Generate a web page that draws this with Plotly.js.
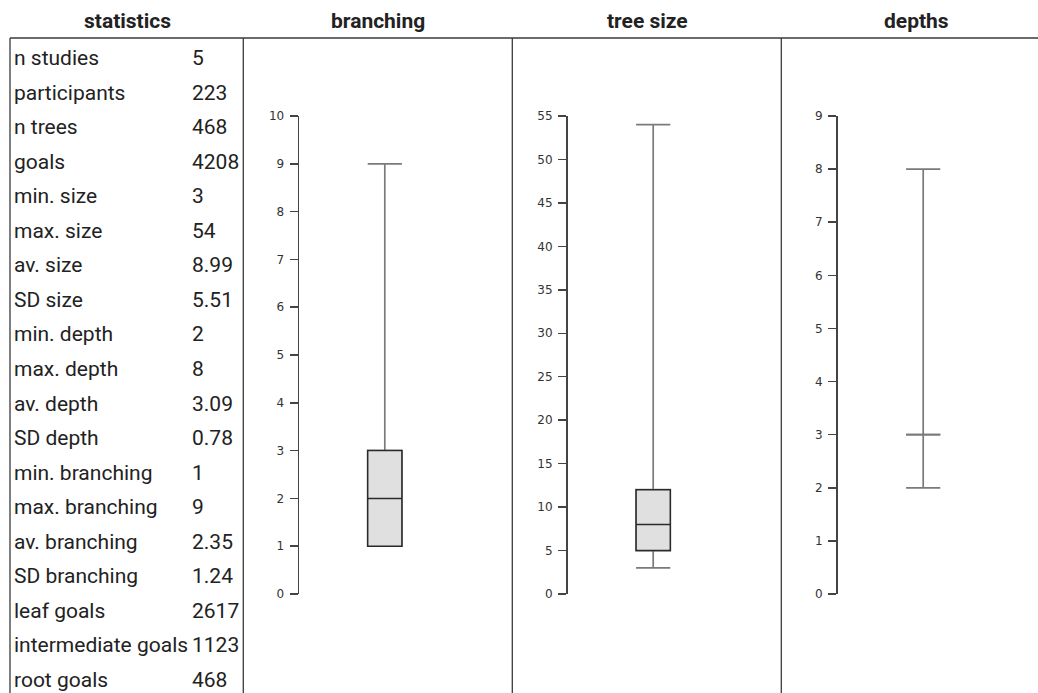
<!DOCTYPE html>
<html>
<head>
<meta charset="utf-8">
<script src="https://cdn.plot.ly/plotly-3.0.1.min.js"></script>
<style>
  html, body { margin: 0; padding: 0; background: #ffffff; }
  #chart { width: 1038px; height: 693px; }
</style>
</head>
<body>
<div id="chart"></div>
<script>
// Summary table
const statLabels = ["n studies", "participants", "n trees", "goals", "min. size", "max. size",
  "av. size", "SD size", "min. depth", "max. depth", "av. depth", "SD depth",
  "min. branching", "max. branching", "av. branching", "SD branching",
  "leaf goals", "intermediate goals", "root goals"];
const statValues = ["5", "223", "468", "4208", "3", "54", "8.99", "5.51", "2", "8",
  "3.09", "0.78", "1", "9", "2.35", "1.24", "2617", "1123", "468"];

// Column headers
const headers = ["statistics", "branching", "tree size", "depths"];

// Box statistics per panel: [min, q1, median, q3, max]
const branching = [1, 1, 2, 3, 9];
const treeSize  = [3, 5, 8, 12, 54];
const depths    = [2, 3, 3, 3, 8];

// Axis ranges and tick spacing per panel
const yMax  = [10, 55, 9];
const yStep = [1, 5, 1];

const W = 1038, H = 693;
const px = x => x / W;
const py = y => 1 - y / H;

const panels = [branching, treeSize, depths];
const axisLeft = [299.3, 567.7, 837.7];
const plotW = 171;
const plotTop = 116, plotBottom = 594;

const whiskerColor = "#7a7a7a";
const boxColor = "#2a2a2a";
const fillColor = "#e0e0e0";

const traces = [];
const layout = {
  width: W, height: H,
  margin: {l: 0, r: 0, t: 0, b: 0},
  paper_bgcolor: "#ffffff",
  plot_bgcolor: "rgba(0,0,0,0)",
  showlegend: false,
  boxmode: "overlay",
  shapes: [],
  annotations: []
};

panels.forEach((s, i) => {
  const n = i === 0 ? "" : String(i + 1);
  const xa = "x" + n, ya = "y" + n;
  // whiskers from min to max
  traces.push({
    type: "box", xaxis: xa, yaxis: ya, x: [0],
    lowerfence: [s[0]], q1: [s[1]], median: [s[2]], q3: [s[3]], upperfence: [s[4]],
    width: 0.2, whiskerwidth: 1, boxpoints: false,
    line: {color: whiskerColor, width: 1.7},
    fillcolor: "rgba(0,0,0,0)", hoverinfo: "skip"
  });
  // interquartile box on top (a collapsed box keeps the whisker colour)
  const collapsed = s[1] === s[3];
  traces.push({
    type: "box", xaxis: xa, yaxis: ya, x: [0],
    lowerfence: [s[1]], q1: [s[1]], median: [s[2]], q3: [s[3]], upperfence: [s[3]],
    width: 0.2, whiskerwidth: 1, boxpoints: false,
    line: {color: collapsed ? whiskerColor : boxColor, width: collapsed ? 1.7 : 1.5},
    fillcolor: fillColor, hoverinfo: "skip"
  });
  layout["xaxis" + n] = {
    domain: [px(axisLeft[i]), px(axisLeft[i] + plotW)],
    range: [-0.5, 0.5], anchor: ya,
    showline: false, showgrid: false, zeroline: false,
    showticklabels: false, ticks: "", fixedrange: true
  };
  layout["yaxis" + n] = {
    domain: [py(plotBottom), py(plotTop)],
    range: [0, yMax[i]], dtick: yStep[i], tick0: 0, anchor: xa,
    showline: true, linecolor: "#444444", linewidth: 1.7,
    ticks: "outside", ticklen: 8, tickwidth: 1.5, tickcolor: "#444444",
    ticklabelstandoff: 3,
    showgrid: false, zeroline: false, fixedrange: true,
    tickfont: {family: "DejaVu Sans", size: 12, color: "#333333"}
  };
});

// Grid lines of the layout
const lineStyle = {color: "#3a3a3a", width: 1.3};
const hline = (x0, x1, y) => ({type: "line", xref: "paper", yref: "paper",
  x0: px(x0), x1: px(x1), y0: py(y), y1: py(y), line: lineStyle});
const vline = (x, y0, y1) => ({type: "line", xref: "paper", yref: "paper",
  x0: px(x), x1: px(x), y0: py(y0), y1: py(y1), line: lineStyle});
layout.shapes.push(hline(10, W, 38));
[10, 243.3, 512.3, 781.3].forEach(x => layout.shapes.push(vline(x, 38, H)));

// Column headers
const headerX = [127, 378, 647, 916];
headers.forEach((h, i) => {
  layout.annotations.push({
    xref: "paper", yref: "paper", x: px(headerX[i]), y: py(21),
    xanchor: "center", yanchor: "middle", showarrow: false,
    text: "<b>" + h + "</b>",
    font: {family: "Roboto", size: 21, color: "#222222"}
  });
});

// Table rows
statLabels.forEach((lab, i) => {
  const yc = 58 + i * 34.55;
  layout.annotations.push({
    xref: "paper", yref: "paper", x: px(12), y: py(yc),
    xanchor: "left", yanchor: "middle", showarrow: false, text: lab,
    font: {family: "Roboto", size: 21, color: "#222222"}
  });
  layout.annotations.push({
    xref: "paper", yref: "paper", x: px(189.5), y: py(yc),
    xanchor: "left", yanchor: "middle", showarrow: false, text: statValues[i],
    font: {family: "Roboto", size: 21, color: "#222222"}
  });
});

Plotly.newPlot("chart", traces, layout, {displayModeBar: false, staticPlot: true});
</script>
</body>
</html>
